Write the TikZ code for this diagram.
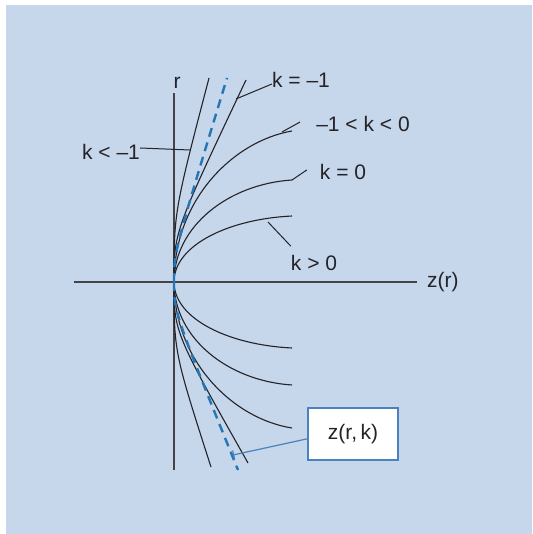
\documentclass[tikz,border=0pt]{standalone}
\usepackage{fontspec}
\setmainfont{Liberation Sans}
\usetikzlibrary{positioning, arrows.meta}

\definecolor{panelblue}{RGB}{198,214,235}
\definecolor{conicblue}{RGB}{38,118,182}
\definecolor{boxblue}{RGB}{74,130,190}
\definecolor{curvegray}{RGB}{35,35,40}

\begin{document}
\begin{tikzpicture}[
  x=1pt, y=1pt,
  font=\fontsize{21}{25}\selectfont,
  axis/.style={draw=curvegray!85, line width=1.4pt},
  profile/.style={draw=curvegray, line width=1.1pt},
  refprofile/.style={draw=conicblue, line width=2.4pt, dash pattern=on 9pt off 6pt},
  pointer/.style={draw=curvegray, line width=1pt},
  tag/.style={inner sep=0pt, text=curvegray},
  valuebox/.style={draw=boxblue, line width=1.4pt, fill=white,
                   minimum width=90pt, minimum height=52pt, text=curvegray}
]

% -------------------------
% Panel
% -------------------------

\useasboundingbox (-174,-252) rectangle (358,282);
\fill[panelblue] (-168,-252) rectangle (358,277);

% -------------------------
% Axes
% -------------------------

\coordinate (O) at (0,0);
\coordinate (rtop) at (0,189);
\coordinate (rbot) at (0,-188);
\coordinate (zleft) at (-100,0);
\coordinate (zend) at (243,0);

\draw[axis] (rbot) -- (rtop);
\draw[axis] (zleft) -- (zend);

\node[tag, above=4pt of rtop, xshift=3pt] (rlabel) {r};
\node[tag, right=10pt of zend] (zlabel) {z(r)};

% -------------------------
% Profiles, upper half
% -------------------------

\coordinate (hypTop) at (35,204);
\coordinate (parTop) at (72,202);
\coordinate (prolTop) at (118,151);
\coordinate (sphTop) at (118,102);
\coordinate (oblTop) at (118,66);

\draw[profile] (O) .. controls (0,70) .. (hypTop);
\draw[profile] (O) .. controls (0,50) .. (parTop);
\draw[profile] (O) .. controls (0,83) and (60,141) .. (prolTop);
\draw[profile] (O) .. controls (0,56) and (55,98) .. (sphTop);
\draw[profile] (O) .. controls (0,37) and (55,63) .. (oblTop);

% -------------------------
% Profiles, lower half
% -------------------------

\coordinate (hypBot) at (37,-185);
\coordinate (parBot) at (74,-181);
\coordinate (prolBot) at (118,-146);
\coordinate (sphBot) at (118,-103);
\coordinate (oblBot) at (118,-66);

\draw[profile] (O) .. controls (0,-70) .. (hypBot);
\draw[profile] (O) .. controls (0,-50) .. (parBot);
\draw[profile] (O) .. controls (0,-80) and (60,-137) .. (prolBot);
\draw[profile] (O) .. controls (0,-57) and (55,-99) .. (sphBot);
\draw[profile] (O) .. controls (0,-37) and (55,-63) .. (oblBot);

% Blue dashed profile z(r,k)
\coordinate (dashTop) at (53,204);
\coordinate (dashBot) at (64,-188);
\draw[refprofile] (O) .. controls (0,30) .. (dashTop);
\draw[refprofile] (O) .. controls (0,-30) .. (dashBot);

% -------------------------
% Labels
% -------------------------

\node[tag] (lblHyp)  at (-63,130) {k < –1};
\node[tag] (lblPar)  at (127,202) {k = –1};
\node[tag] (lblProl) at (189,158) {–1 < k < 0};
\node[tag] (lblSph)  at (169,110) {k = 0};
\node[tag] (lblObl)  at (140,19)  {k > 0};
\node[valuebox] (zbox) at (179,-152) {z(r,\,k)};

% -------------------------
% Leaders
% -------------------------

\coordinate (ptHyp) at (16,132);
\coordinate (ptPar) at (62,183);
\coordinate (ptProl) at (108,150);
\coordinate (ptObl) at (94,60);
\coordinate (ptDash) at (59,-173);

\draw[pointer] ([yshift=4pt]lblHyp.east) -- (ptHyp);
\draw[pointer] ([yshift=-4pt]lblPar.west) -- (ptPar);
\draw[pointer] ([xshift=-16pt,yshift=2pt]lblProl.west) -- (ptProl);
\draw[pointer] ([xshift=-13pt,yshift=2pt]lblSph.west) -- (sphTop);
\draw[pointer] ([yshift=9pt]lblObl.north west) -- (ptObl);
\draw[draw=boxblue, line width=1.2pt, -{Bar[width=9pt]}] (zbox.186) -- (ptDash);

\end{tikzpicture}
\end{document}
